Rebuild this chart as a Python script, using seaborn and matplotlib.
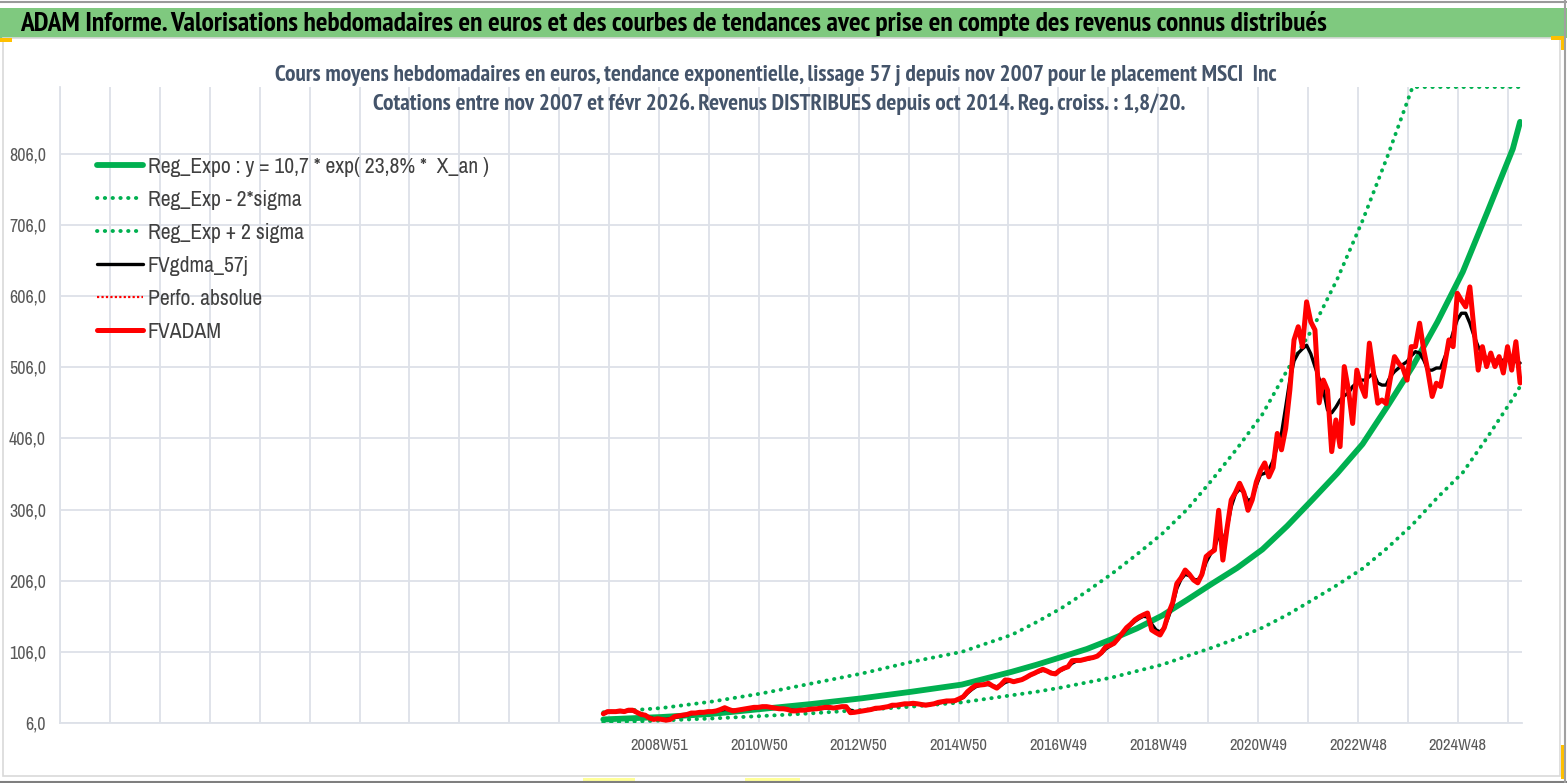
import numpy as np
import pandas as pd
import matplotlib
matplotlib.use("Agg")
import matplotlib.pyplot as plt
import seaborn as sns
from matplotlib import font_manager
from matplotlib.lines import Line2D
from matplotlib.patches import Rectangle

# ---- data ----
first_week = "2007-11-05"
last_week = "2026-02-23"

# FVADAM, one value per month, nov 2007 -> feb 2026
fv_adam = [
    19, 22,
    22, 22, 23, 22, 24, 24, 21, 18, 17, 13, 11, 12,
    11, 10, 11, 15, 16, 17, 18, 20, 20, 21, 21, 22,
    22, 23, 25, 27.5, 25, 23, 24, 25, 26, 27, 28, 28,
    29, 29, 28, 27, 26, 26, 25, 23, 23, 24, 24, 25,
    25.7, 26, 27, 28, 28, 27, 28, 29, 29, 20.5, 21, 22,
    23, 24, 25, 26.7, 27, 28, 29, 31, 31, 32, 33, 33,
    33.7, 33, 32, 31, 32, 33, 35, 36, 37, 37, 37.4, 40,
    43, 50, 55, 59, 59.4, 60, 61.8, 58, 55, 60, 66.5, 66,
    64, 65.5, 67, 70, 73.5, 76, 79, 81.5, 79, 76, 75, 80,
    83, 85, 93.6, 94, 94, 95.5, 97, 98, 100, 105, 113, 115,
    118, 125, 132.5, 140, 145, 151, 155, 158, 160.6, 136.7, 133, 129.7,
    140, 160, 175, 202, 210, 221, 215, 207, 203, 215, 240, 245,
    249, 305, 235, 280, 319.5, 330, 343, 330, 305, 319.5, 345, 361,
    371.6, 352, 365, 413, 390, 420, 474, 544.5, 563, 535, 598, 570,
    558.5, 456, 488, 474, 387.5, 432, 394.5, 507, 474, 427, 502, 480,
    465, 540, 498, 455.5, 460, 455, 490, 521, 511.7, 505, 488, 535,
    535, 568, 530, 500, 465, 483.6, 479, 510, 544.5, 535, 610, 600,
    591, 619, 558.5, 502, 535, 507, 526, 507, 521, 498, 535, 502,
    542, 484,
]

# FVgdma_57j (smoothed), same months
fv_gdma = [
    19, 21,
    22, 22, 22, 22, 23, 23, 21, 19, 17, 14, 12, 12,
    11, 11, 12, 14, 15, 16, 17, 19, 20, 20, 21, 21,
    22, 23, 24, 25, 25, 24, 24, 25, 26, 26, 27, 28,
    28, 28, 28, 27, 26, 26, 25, 24, 24, 24, 24, 25,
    25, 26, 26, 27, 27, 27, 28, 28, 28, 24, 22, 22,
    23, 24, 25, 26, 27, 28, 29, 30, 31, 32, 32, 33,
    33, 33, 32, 32, 32, 33, 34, 35, 36, 37, 37, 39,
    42, 48, 53, 57, 59, 60, 60, 58, 57, 59, 63, 65,
    65, 66, 67, 70, 73, 76, 78, 80, 79, 77, 76, 79,
    82, 85, 90, 93, 94, 95, 96, 98, 100, 104, 110, 114,
    118, 124, 131, 138, 144, 149, 153, 156, 155, 145, 137, 134,
    140, 155, 172, 195, 208, 215, 213, 208, 207, 214, 232, 243,
    252, 270, 260, 280, 310, 328, 335, 330, 318, 322, 340, 355,
    357, 362, 375, 395, 413, 450, 488, 515, 526, 532, 537, 525,
    507, 490, 474, 446, 442, 450, 460, 466, 470, 479, 484, 488,
    488, 493, 498, 484, 481, 481, 493, 500, 505, 510, 514, 522,
    528, 526, 516, 502, 502, 505, 505, 520, 535, 555, 573, 582,
    582, 568, 550, 535, 525, 519, 518, 516, 516, 516, 516, 515,
    514, 512,
]

# trend curves, read yearly then half-yearly where they bend more
trend_dates = ["2007-11-05", "2009-01-01", "2010-01-01", "2011-01-01", "2012-01-01",
               "2013-01-01", "2014-01-01", "2015-01-01", "2016-01-01", "2016-07-01",
               "2017-01-01", "2017-07-01", "2018-01-01", "2018-07-01", "2019-01-01",
               "2019-07-01", "2020-01-01", "2020-07-01", "2021-01-01", "2021-07-01",
               "2022-01-01", "2022-07-01", "2023-01-01", "2023-07-01", "2024-01-01",
               "2024-07-01", "2025-01-01", "2025-07-01", "2026-01-01", "2026-02-23"]
reg_expo = [11, 14.4, 18.7, 25.7, 32.7, 40.7, 50, 60, 78, 88,
            99, 110, 124, 139, 157, 179, 202, 224, 250, 283,
            320, 357, 398, 451, 507, 570, 640, 725, 813, 851]
reg_minus = [6.5, 9.5, 12.3, 15.8, 19.6, 24.3, 29, 35, 45, 50,
             56, 63, 70, 79, 88, 100, 112, 125, 140, 158,
             179, 200, 223, 252, 285, 323, 358, 408, 462, 479]
reg_plus = [21, 27, 36, 47.5, 61.5, 75.5, 92, 106, 130, 148,
            168, 191, 216, 243, 272, 306, 348, 392, 440, 502,
            560, 630, 712, 802, 900, 900, 900, 900, 900, 900]

x_labels = ["2008W51", "2010W50", "2012W50", "2014W50", "2016W49",
            "2018W49", "2020W49", "2022W48", "2024W48"]

banner = ("ADAM Informe. Valorisations hebdomadaires en euros et des courbes de tendances "
          "avec prise en compte des revenus connus distribués")
title1 = ("Cours moyens hebdomadaires en euros, tendance exponentielle, lissage 57 j "
          "depuis nov 2007 pour le placement MSCI  Inc")
title2 = ("Cotations entre nov 2007 et févr 2026. Revenus DISTRIBUES depuis oct 2014. "
          "Reg. croiss. : 1,8/20.")
leg_labels = ["Reg_Expo : y = 10,7 * exp( 23,8% *  X_an )", "Reg_Exp - 2*sigma",
              "Reg_Exp + 2 sigma", "FVgdma_57j", "Perfo. absolue", "FVADAM"]

# ---- frames ----
dates = pd.date_range(first_week, last_week, periods=len(fv_adam))
weekly = pd.DataFrame({"date": dates, "FVADAM": fv_adam, "FVgdma_57j": fv_gdma})
trend = pd.DataFrame({"date": pd.to_datetime(trend_dates), "reg": reg_expo,
                      "minus": reg_minus, "plus": reg_plus})


# ---- style: narrow faces close to the squeezed Calibri of the reference ----
def weight_of(f):
    w = f.weight
    return font_manager.weight_dict.get(w, 400) if isinstance(w, str) else int(w)


def find_font(test, bold):
    for f in font_manager.fontManager.ttflist:
        if test(f) and f.style == "normal" and (weight_of(f) >= 600) == bold:
            return f.name, f.stretch
    return None


def is_narrow(f):
    return "Narrow" in f.name


def is_condensed(f):
    return "Condensed" in f.name or f.stretch in ("condensed", "semi-condensed")


sns.set_theme(style="white")
reg_font = find_font(is_narrow, False) or find_font(is_condensed, False) or ("Roboto", "normal")
bold_font = find_font(is_narrow, True) or find_font(is_condensed, True) or ("Roboto", "normal")
plt.rcParams["font.family"] = [reg_font[0], "DejaVu Sans"]
plt.rcParams["font.stretch"] = reg_font[1]
bold_kw = dict(family=[bold_font[0], "DejaVu Sans"], stretch=bold_font[1], weight="bold")

W, H = 1567, 783
fig = plt.figure(figsize=(W / 100, H / 100), dpi=100)
fig.patch.set_facecolor("white")
ax = fig.add_axes([60 / W, 1 - 723 / H, (1522 - 60) / W, (723 - 87) / H])

green = "#00B050"
dots = (0, (0.1, 1.9))
sns.lineplot(data=trend, x="date", y="reg", ax=ax, color=green, lw=4.2,
             label=leg_labels[0], zorder=3)
sns.lineplot(data=trend, x="date", y="minus", ax=ax, color=green, lw=2.8,
             linestyle=dots, dash_capstyle="round", label=leg_labels[1], zorder=3)
sns.lineplot(data=trend, x="date", y="plus", ax=ax, color=green, lw=2.8,
             linestyle=dots, dash_capstyle="round", label=leg_labels[2], zorder=3)
sns.lineplot(data=weekly, x="date", y="FVgdma_57j", ax=ax, color="black", lw=2.4,
             label=leg_labels[3], zorder=4)
sns.lineplot(data=weekly, x="date", y="FVADAM", ax=ax, color="#FF0000", lw=3.6,
             label=leg_labels[5], zorder=5)

# ---- axes: category-like weekly axis, grid every 52 weeks ----
label_pos = [pd.Timestamp.fromisocalendar(int(s[:4]), int(s[5:]), 1) for s in x_labels]
x0 = label_pos[0] - pd.Timedelta(weeks=12 * 52)
grid_pos = [x0 + pd.Timedelta(weeks=52 * k) for k in range(30)]
lab_at = dict(zip(label_pos, x_labels))
ax.set_xlim(x0, x0 + pd.Timedelta(weeks=1523))
ax.set_ylim(6, 900)

grid_c = "#DDE1E8"
ax.set_xticks(grid_pos)
ax.set_xticklabels([lab_at.get(p, "") for p in grid_pos])
ax.tick_params(axis="x", length=5, color=grid_c, width=1.2, direction="out",
               pad=6, labelsize=12, labelcolor="#595959")

yt = np.arange(6, 807, 100)
ax.set_yticks(yt)
ax.set_yticklabels([f"{v:.1f}".replace(".", ",") for v in yt])
ax.tick_params(axis="y", length=0, pad=10, labelsize=12, labelcolor="#595959")

ax.grid(True, which="major", color=grid_c, lw=1.3)
for s in ["top", "right"]:
    ax.spines[s].set_visible(False)
for s in ["left", "bottom"]:
    ax.spines[s].set_color(grid_c)
    ax.spines[s].set_linewidth(1.3)
ax.set_xlabel("")
ax.set_ylabel("")

# ---- size tick labels and legend text to the widths seen in the reference ----
fig.canvas.draw()
r = fig.canvas.get_renderer()
yw = ax.get_yticklabels()[-1].get_window_extent(r).width        # "806,0" ~ 37 px
ax.tick_params(axis="y", labelsize=12 * 37 / yw)
xw = ax.get_xticklabels()[12].get_window_extent(r).width        # "2008W51" ~ 58 px
ax.tick_params(axis="x", labelsize=12 * 58 / xw)

probe = fig.text(0, 0, leg_labels[0], fontsize=14)
leg_fs = 14 * 342 / probe.get_window_extent(r).width
probe.remove()

handles, labels = ax.get_legend_handles_labels()
perfo = Line2D([], [], color="#FF0000", lw=1.6, linestyle=(0, (1, 1)))
handles.insert(4, perfo)
labels.insert(4, leg_labels[4])
ax.get_legend().remove()
leg = fig.legend(handles, labels, loc="upper left", bbox_to_anchor=(97 / W, 1 - 157 / H),
                 frameon=False, fontsize=leg_fs, handlelength=33 / leg_fs,
                 handletextpad=3.6 / leg_fs, labelspacing=9.3 / leg_fs, borderpad=0,
                 borderaxespad=0, labelcolor="#404040")

# ---- banner, titles, frame ----
fig.patches.append(Rectangle((0, 1 - 38 / H), 1, 30 / H, transform=fig.transFigure,
                             facecolor="#7FC97F", edgecolor="none", zorder=0))
fig.patches.append(Rectangle((3 / W, 1 - 776 / H), 1557 / W, 738 / H,
                             transform=fig.transFigure, fill=False,
                             edgecolor="#D9D9D9", lw=1.2))
fig.lines.append(Line2D([0, 1], [1 - 1.5 / H] * 2, transform=fig.transFigure,
                        color="#9A9A9A", lw=1.5))
fig.lines.append(Line2D([0, 1], [1 - 782 / H] * 2, transform=fig.transFigure,
                        color="#7F7F7F", lw=1.5))
fig.lines.append(Line2D([1 - 2 / W] * 2, [0, 1], transform=fig.transFigure,
                        color="#A0A0A0", lw=1.5))
for (x, y, w, h, c) in [(0, 38, 12, 4, "#FFC000"), (1551, 36, 14, 4, "#FFC000"),
                        (1561, 36, 4, 14, "#FFC000"), (1561, 745, 4, 34, "#FFC000"),
                        (583, 778, 52, 4, "#FFFF99"), (745, 778, 55, 4, "#FFFF99")]:
    fig.patches.append(Rectangle((x / W, 1 - (y + h) / H), w / W, h / H,
                                 transform=fig.transFigure, facecolor=c,
                                 edgecolor="none"))

t0 = fig.text(20 / W, 1 - 23 / H, banner, ha="left", va="center", fontsize=17,
              color="black", **bold_kw)
t1 = fig.text(776 / W, 1 - 75 / H, title1, ha="center", va="center", fontsize=13,
              color="#44546A", **bold_kw)
t2 = fig.text(779 / W, 1 - 104 / H, title2, ha="center", va="center", fontsize=13,
              color="#44546A", **bold_kw)

# scale the long texts to the widths they take in the reference
fig.canvas.draw()
for t, target in [(t0, 1310), (t1, 1005), (t2, 815)]:
    w = t.get_window_extent(r).width
    t.set_fontsize(t.get_fontsize() * target / w)

fig.savefig("out.png", dpi=100)
